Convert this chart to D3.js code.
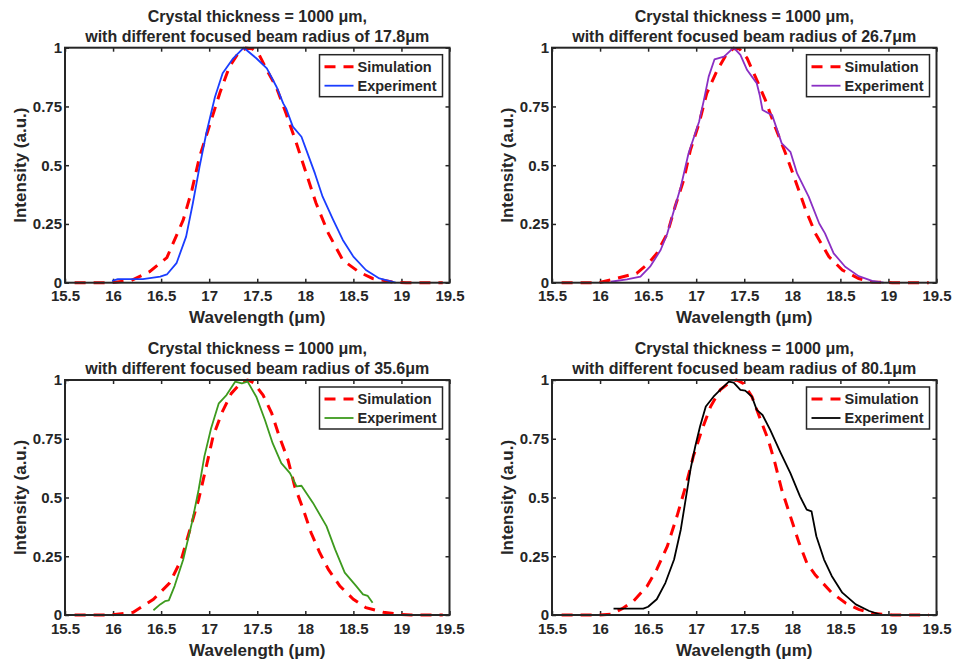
<!DOCTYPE html>
<html>
<head>
<meta charset="utf-8">
<script src="https://cdn.jsdelivr.net/npm/d3@7"></script>
<style>
    body { margin: 0; background: #fff; }
    svg text { font-family: "Liberation Sans", Arial, Helvetica, sans-serif; font-weight: bold; fill: #262626; }
</style>
</head>
<body>
<script>

// axis ticks
const wavelengthTicks = [15.5, 16, 16.5, 17, 17.5, 18, 18.5, 19, 19.5]
const intensityTicks = [0, 0.25, 0.5, 0.75, 1]

const beamRadii = ['17.8', '26.7', '35.6', '80.1']
const legendLabels = ['Simulation', 'Experiment']

// [wavelength (um), intensity]
const simulation178 = [[15.6,0],[15.97,0],[16.19,0.01],[16.38,0.047],[16.56,0.107],[16.73,0.267],[16.82,0.394],[16.9,0.536],[17.02,0.69],[17.11,0.806],[17.21,0.919],[17.3,0.975],[17.38,0.998],[17.45,0.995],[17.52,0.97],[17.6,0.905],[17.7,0.83],[17.8,0.72],[17.91,0.59],[18.01,0.465],[18.11,0.34],[18.24,0.21],[18.39,0.096],[18.56,0.045],[18.7,0.018],[18.91,0.003],[19.05,0],[19.43,0]]
const experiment178 = [[15.99,0.008],[16.05,0.015],[16.31,0.015],[16.49,0.026],[16.56,0.035],[16.66,0.083],[16.76,0.196],[16.83,0.338],[16.9,0.494],[16.97,0.636],[17.06,0.79],[17.14,0.891],[17.25,0.955],[17.36,1.0],[17.49,0.955],[17.6,0.912],[17.7,0.834],[17.77,0.763],[17.8,0.742],[17.87,0.664],[17.96,0.621],[18.01,0.565],[18.1,0.465],[18.18,0.366],[18.29,0.267],[18.39,0.182],[18.5,0.111],[18.63,0.054],[18.77,0.018],[18.91,0.003],[18.94,0]]

const simulation267 = [[15.6,0],[15.99,0],[16.11,0.012],[16.38,0.04],[16.51,0.085],[16.59,0.125],[16.7,0.21],[16.78,0.323],[16.87,0.437],[16.94,0.565],[17.03,0.678],[17.11,0.806],[17.22,0.905],[17.32,0.976],[17.39,0.997],[17.45,0.995],[17.53,0.955],[17.63,0.863],[17.72,0.777],[17.82,0.664],[17.93,0.55],[18.03,0.437],[18.14,0.309],[18.24,0.21],[18.38,0.111],[18.52,0.054],[18.69,0.018],[18.83,0.003],[19.04,0],[19.42,0]]
const experiment267 = [[16.11,0.004],[16.28,0.014],[16.42,0.026],[16.52,0.068],[16.63,0.139],[16.7,0.21],[16.77,0.309],[16.84,0.408],[16.92,0.55],[16.99,0.636],[17.03,0.685],[17.08,0.777],[17.13,0.877],[17.19,0.95],[17.29,0.962],[17.39,1.0],[17.46,0.969],[17.53,0.905],[17.58,0.877],[17.63,0.849],[17.66,0.8],[17.69,0.735],[17.79,0.713],[17.89,0.593],[17.98,0.557],[18.05,0.465],[18.17,0.366],[18.28,0.252],[18.34,0.21],[18.43,0.125],[18.55,0.068],[18.69,0.028],[18.83,0.008],[18.95,0]]

const simulation356 = [[15.6,0],[15.97,0],[16.21,0.012],[16.42,0.067],[16.59,0.137],[16.71,0.236],[16.8,0.364],[16.89,0.491],[16.97,0.632],[17.04,0.759],[17.13,0.859],[17.23,0.943],[17.34,0.993],[17.4,1.0],[17.46,0.989],[17.56,0.936],[17.65,0.859],[17.73,0.759],[17.82,0.66],[17.89,0.547],[17.98,0.448],[18.06,0.35],[18.15,0.265],[18.24,0.194],[18.36,0.123],[18.5,0.067],[18.63,0.031],[18.81,0.012],[18.98,0.003],[19.1,0],[19.43,0]]
const experiment356 = [[16.42,0.02],[16.49,0.045],[16.54,0.059],[16.58,0.062],[16.64,0.123],[16.73,0.236],[16.82,0.392],[16.89,0.533],[16.95,0.675],[17.02,0.795],[17.1,0.901],[17.18,0.936],[17.27,0.993],[17.34,0.986],[17.4,0.993],[17.49,0.929],[17.58,0.83],[17.66,0.731],[17.75,0.646],[17.84,0.604],[17.91,0.547],[17.96,0.55],[18.08,0.477],[18.22,0.378],[18.31,0.279],[18.41,0.18],[18.53,0.123],[18.6,0.088],[18.65,0.081],[18.7,0.052]]

const simulation801 = [[15.6,0],[15.99,0],[16.11,0.003],[16.23,0.027],[16.35,0.06],[16.49,0.123],[16.59,0.194],[16.7,0.293],[16.8,0.42],[16.89,0.547],[16.97,0.675],[17.06,0.788],[17.15,0.887],[17.25,0.958],[17.36,0.993],[17.42,1.0],[17.49,0.986],[17.58,0.929],[17.67,0.83],[17.75,0.745],[17.82,0.646],[17.89,0.533],[17.98,0.42],[18.07,0.307],[18.15,0.222],[18.24,0.17],[18.41,0.095],[18.55,0.052],[18.69,0.024],[18.83,0.007],[19.04,0],[19.42,0]]
const experiment801 = [[16.14,0.027],[16.45,0.027],[16.5,0.035],[16.59,0.067],[16.68,0.137],[16.77,0.236],[16.84,0.364],[16.89,0.491],[16.94,0.618],[16.99,0.717],[17.04,0.802],[17.1,0.887],[17.18,0.929],[17.25,0.958],[17.34,0.993],[17.39,0.989],[17.46,0.958],[17.51,0.955],[17.58,0.929],[17.63,0.873],[17.69,0.851],[17.77,0.788],[17.88,0.689],[17.98,0.604],[18.08,0.505],[18.15,0.448],[18.2,0.441],[18.25,0.335],[18.33,0.236],[18.41,0.166],[18.52,0.095],[18.66,0.045],[18.8,0.017],[18.93,0]]

const simulations = [simulation178, simulation267, simulation356, simulation801]
const experiments = [experiment178, experiment267, experiment356, experiment801]
const experimentColours = ['#1a3dff', '#8a2fc4', '#3d9a1e', '#000000']


window.onload = function(){
    const svg = d3.select('body').append('svg')
        .attr('width', 953)
        .attr('height', 662)

    svg.append('rect').attr('width', 953).attr('height', 662).attr('fill', '#fff')

    beamRadii.forEach((radius, i) => {
        const p = new panel(svg, layout.getBox(i), radius, simulations[i], experiments[i], experimentColours[i])
        p.render()
    })
}

class layout {
    static lefts = [65, 552]
    static tops = [47.7, 380]
    static width = 384.5
    static height = 235

    static getBox(i){
        return {
            left: this.lefts[i % 2],
            top: this.tops[Math.floor(i / 2)],
            width: this.width,
            height: this.height
        }
    }
}

class panel {

    static axisColour = '#262626'

    constructor(svg, box, radius, simulation, experiment, colour){
        this.svg = svg
        this.box = box
        this.radius = radius
        this.simulation = simulation
        this.experiment = experiment
        this.colour = colour

        this.x = d3.scaleLinear().domain([15.5, 19.5]).range([0, box.width])
        this.y = d3.scaleLinear().domain([0, 1]).range([box.height, 0])
    }

    render(){
        this.g = this.svg.append('g')
            .attr('transform', d3Helper.getTranslateString(this.box.left, this.box.top))

        this.drawAxes()
        this.drawLines()
        this.drawBox()
        this.drawLegend()
        this.drawTexts()
    }

    drawAxes(){
        const w = this.box.width
        const h = this.box.height
        const fmt = d => String(d)

        const bottom = this.g.append('g')
            .attr('transform', d3Helper.getTranslateString(0, h))
            .call(d3.axisBottom(this.x).tickValues(wavelengthTicks).tickFormat(fmt).tickSizeInner(-4).tickSizeOuter(0).tickPadding(8))
        const left = this.g.append('g')
            .call(d3.axisLeft(this.y).tickValues(intensityTicks).tickFormat(fmt).tickSizeInner(-4).tickSizeOuter(0).tickPadding(3))
        const top = this.g.append('g')
            .call(d3.axisTop(this.x).tickValues(wavelengthTicks).tickFormat('').tickSizeInner(-4).tickSizeOuter(0))
        const right = this.g.append('g')
            .attr('transform', d3Helper.getTranslateString(w, 0))
            .call(d3.axisRight(this.y).tickValues(intensityTicks).tickFormat('').tickSizeInner(-4).tickSizeOuter(0))

        ;[bottom, left, top, right].forEach(a => {
            a.select('.domain').remove()
            a.selectAll('line').attr('stroke', panel.axisColour).attr('stroke-width', 1.5)
            a.selectAll('text')
                .style('font-size', '15px')
                .style('font-family', '"Liberation Sans", Arial, sans-serif')
                .style('font-weight', 'bold')
                .attr('fill', panel.axisColour)
        })
    }

    drawLines(){
        const line = d3.line()
            .x(d => this.x(d[0]))
            .y(d => this.y(d[1]))

        // simulation first, experiment drawn over it
        this.g.append('path')
            .datum(this.simulation)
            .attr('d', line)
            .attr('fill', 'none')
            .attr('stroke', '#ff0000')
            .attr('stroke-width', 3)
            .attr('stroke-dasharray', '11,8')

        this.g.append('path')
            .datum(this.experiment)
            .attr('d', line)
            .attr('fill', 'none')
            .attr('stroke', this.colour)
            .attr('stroke-width', 1.8)
            .attr('stroke-linejoin', 'round')
    }

    drawBox(){
        this.g.append('rect')
            .attr('width', this.box.width)
            .attr('height', this.box.height)
            .attr('fill', 'none')
            .attr('stroke', panel.axisColour)
            .attr('stroke-width', 2)
    }

    drawLegend(){
        const lx = this.box.width - 130
        const ly = 7
        const lg = this.g.append('g').attr('transform', d3Helper.getTranslateString(lx, ly))

        lg.append('rect')
            .attr('width', 123)
            .attr('height', 42)
            .attr('fill', '#fff')
            .attr('stroke', panel.axisColour)
            .attr('stroke-width', 1.5)

        const styles = [
            {stroke: '#ff0000', width: 3, dash: '11,8'},
            {stroke: this.colour, width: 1.8, dash: null}
        ]

        legendLabels.forEach((label, i) => {
            const cy = 12 + i * 19
            lg.append('line')
                .attr('x1', 5).attr('x2', 34)
                .attr('y1', cy).attr('y2', cy)
                .attr('stroke', styles[i].stroke)
                .attr('stroke-width', styles[i].width)
                .attr('stroke-dasharray', styles[i].dash)
            lg.append('text')
                .attr('x', 38)
                .attr('y', cy + 5)
                .style('font-size', '14.5px')
                .text(label)
        })
    }

    drawTexts(){
        const cx = this.box.width / 2

        const title = this.g.append('text')
            .attr('text-anchor', 'middle')
            .style('font-size', '16px')
        title.append('tspan').attr('x', cx).attr('y', -26).text('Crystal thickness = 1000 μm,')
        title.append('tspan').attr('x', cx).attr('y', -6).text('with different focused beam radius of ' + this.radius + 'μm')

        this.g.append('text')
            .attr('x', cx)
            .attr('y', this.box.height + 40.5)
            .attr('text-anchor', 'middle')
            .style('font-size', '17px')
            .text('Wavelength (μm)')

        this.g.append('text')
            .attr('transform', d3Helper.getTranslateString(-39, this.box.height / 2) + ' rotate(-90)')
            .attr('text-anchor', 'middle')
            .style('font-size', '17px')
            .text('Intensity (a.u.)')
    }
}

class d3Helper {
    static getTranslateString(x, y){
        return "translate(" + x + "," + y + ")"
    }
}
</script>
</body>
</html>
